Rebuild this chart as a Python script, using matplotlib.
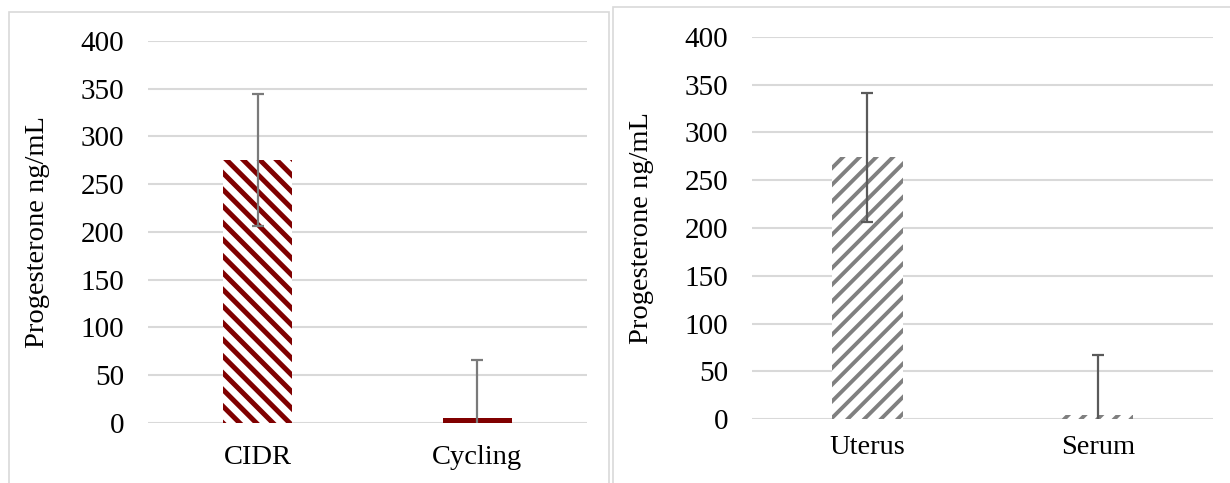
import matplotlib
matplotlib.use("Agg")
import matplotlib.pyplot as plt
from matplotlib.patches import Rectangle

# Data
left_categories = ["CIDR", "Cycling"]
left_values = [275, 5]
left_errors = [69, 61]

right_categories = ["Uterus", "Serum"]
right_values = [274, 4]
right_errors = [67.5, 63]

y_ticks = [0, 50, 100, 150, 200, 250, 300, 350, 400]
y_label = "Progesterone ng/mL"

W, H = 1230, 483
DPI = 100
plt.rcParams['font.family'] = ['Liberation Serif', 'DejaVu Serif']

fig = plt.figure(figsize=(W / DPI, H / DPI), dpi=DPI)
fig.patch.set_facecolor('white')

def px_axes(x0, x1, ytop, ybot):
    return fig.add_axes([x0 / W, (H - ybot) / H, (x1 - x0) / W, (ybot - ytop) / H])

border_col = '#d9d9d9'
# panel borders
fig.add_artist(Rectangle((8.5 / W, -0.1), (609 - 8.5) / W, (H - 11.5) / H + 0.1,
                         transform=fig.transFigure, fill=False, edgecolor=border_col, lw=1.2))
fig.add_artist(Rectangle((612.5 / W, -0.1), (1240 - 612.5) / W, (H - 7.5) / H + 0.1,
                         transform=fig.transFigure, fill=False, edgecolor=border_col, lw=1.2))

def draw(ax, cats, vals, errs, color, hatch, hatch_lw, err_color, width,
         solid_small, xpad, ylpad):
    x = list(range(len(cats)))
    with plt.rc_context({'hatch.linewidth': hatch_lw}):
        bars = ax.bar(x, vals, width=width, color='white', edgecolor=color, hatch=hatch,
                      linewidth=0, zorder=2)
    if solid_small:
        for b, v in zip(bars, vals):
            if v < 10:
                b.set_facecolor(color)
                b.set_hatch(None)
    ax.errorbar(x, vals, yerr=errs, fmt='none', ecolor=err_color, elinewidth=1.6,
                capsize=4.3, capthick=1.6, zorder=3)
    ax.set_xlim(-0.5, len(cats) - 0.5)
    ax.set_ylim(0, 400)
    ax.set_yticks(y_ticks)
    ax.set_xticks(x)
    ax.set_xticklabels(cats)
    ax.grid(axis='y', color='#d9d9d9', linewidth=1.5, zorder=0)
    ax.set_axisbelow(True)
    for s in ax.spines.values():
        s.set_visible(False)
    ax.tick_params(axis='both', length=0, labelsize=21, colors='black')
    ax.tick_params(axis='x', labelsize=20.5)
    ax.tick_params(axis='y', pad=17)
    ax.tick_params(axis='x', pad=xpad)
    ax.set_ylabel(y_label, fontsize=20.5, labelpad=ylpad)

ax1 = px_axes(148, 587, 41, 422.7)
draw(ax1, left_categories, left_values, left_errors, '#800000', '\\\\', 3.6, '#7a7a7a', 0.315,
     True, 16, 22)
ax2 = px_axes(752, 1213, 36.7, 419.3)
draw(ax2, right_categories, right_values, right_errors, '#808080', '//', 2.8, '#5a5a5a', 0.31,
     False, 11, 22)

fig.savefig('out.png', dpi=DPI, facecolor='white')
